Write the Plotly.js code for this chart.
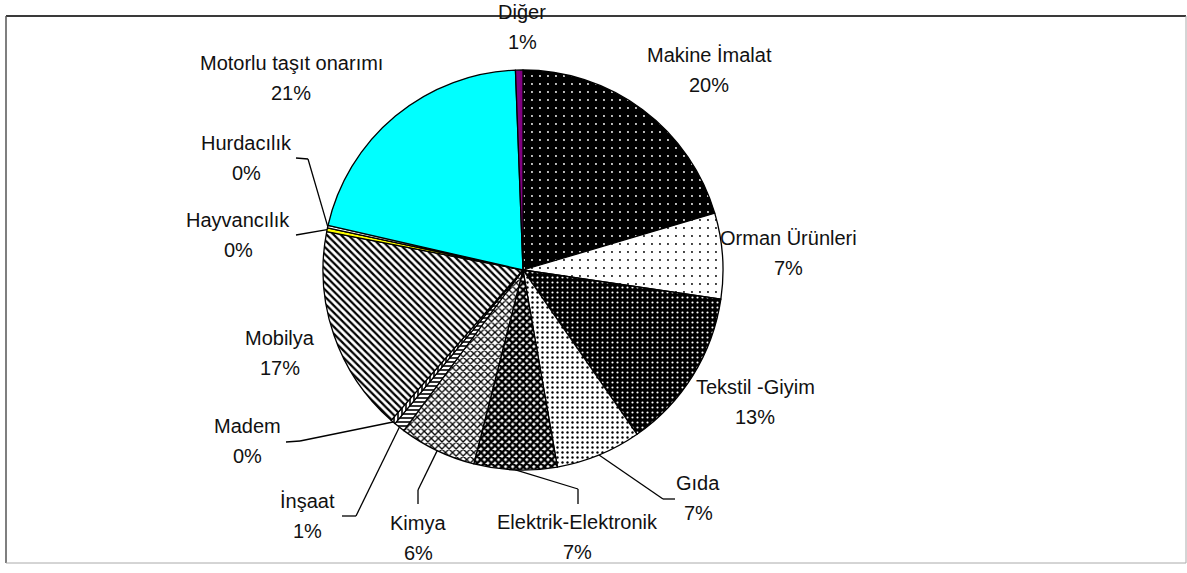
<!DOCTYPE html>
<html>
<head>
<meta charset="utf-8">
<script src="https://cdn.plot.ly/plotly-3.0.1.min.js"></script>
<style>html,body{margin:0;padding:0;background:#fff;}#chart{width:1187px;height:573px;}</style>
</head>
<body>
<div id="chart"></div>
<script>
// ---- data ----
const categories = ["Makine İmalat","Orman Ürünleri","Tekstil -Giyim","Gıda","Elektrik-Elektronik","Kimya","İnşaat","Madem","Mobilya","Hayvancılık","Hurdacılık","Motorlu taşıt onarımı","Diğer"];
const shares = [20.4, 6.9, 13.0, 6.9, 6.7, 6.2, 0.9, 0.4, 16.6, 0.3, 0.2, 20.8, 0.6];

// ---- styles ----
const sliceColors = ["#000000","#ffffff","#000000","#ffffff","#ffffff","#ffffff","#ffffff","#ffffff","#ffffff","#ffff00","#ffffff","#00ffff","#800080"];
const patShape   = [".",".",".",".","x","x","-","|","\\","","","",""];
const patFg      = ["#ffffff","#000000","#ffffff","#000000","#000000","#000000","#000000","#000000","#000000","#000000","#000000","#000000","#000000"];
const patSize    = [8,8,5,5,5,5,4,4,5,6,6,6,6];
const patSolid   = [0.045,0.045,0.15,0.18,0.72,0.45,0.4,0.4,0.45,0.3,0.3,0.3,0.3];

// label layout (pixel centres of the name line, second line 30px below)
const labelPos = [[709,55],[788,238],[755,387],[698,483],[577,522],[418,523],[308,501],[248,426],[280,338],[238,220],[246,143],[291,63],[522,12]];
// leader line elbows (pixel), ending at slice middle on the rim (computed)
const leaderPts = [null,null,null,
  [[675,499],[663,499]],
  [[578,504],[578,489]],
  [[418,504],[418,490]],
  [[342,516],[356,516]],
  [[286,442],[300,441]],
  null,
  [[296,235]],
  [[296,158],[308,159]],
  null,null];

const W = 1187, H = 573;
const cx = 523, cy = 270, R = 200;
const px = x => x / W;
const py = y => 1 - y / H;

const total = shares.reduce((a,b)=>a+b,0);

const annotations = [];
const shapes = [];
let cum = 0;
categories.forEach((name,i)=>{
  const mid = (cum + shares[i]/2) / total * 2 * Math.PI;
  cum += shares[i];
  const pct = Math.round(shares[i]/total*100) + '%';
  const [lx,ly] = labelPos[i];
  const font = {family:"Liberation Sans, Arial, sans-serif", size:20, color:"#111"};
  annotations.push({x:px(lx), y:py(ly), xref:'paper', yref:'paper', text:name, showarrow:false, xanchor:'center', yanchor:'middle', font});
  annotations.push({x:px(lx), y:py(ly+30), xref:'paper', yref:'paper', text:pct, showarrow:false, xanchor:'center', yanchor:'middle', font});
  if (leaderPts[i]) {
    const pts = leaderPts[i].concat([[cx + R*Math.sin(mid), cy - R*Math.cos(mid)]]);
    for (let k=0;k<pts.length-1;k++){
      shapes.push({type:'line', xref:'paper', yref:'paper', x0:px(pts[k][0]), y0:py(pts[k][1]), x1:px(pts[k+1][0]), y1:py(pts[k+1][1]), line:{color:'#000', width:1.3}});
    }
  }
});

// frame
shapes.push({type:'line', xref:'paper', yref:'paper', x0:px(6), y0:py(16), x1:px(1186), y1:py(16), line:{color:'#3a3a3a', width:2}});
shapes.push({type:'line', xref:'paper', yref:'paper', x0:px(6), y0:py(16), x1:px(6), y1:py(563), line:{color:'#555', width:1.5}});
shapes.push({type:'line', xref:'paper', yref:'paper', x0:px(1186), y0:py(16), x1:px(1186), y1:py(563), line:{color:'#aaa', width:1}});
shapes.push({type:'line', xref:'paper', yref:'paper', x0:px(6), y0:py(563), x1:px(1186), y1:py(563), line:{color:'#aaa', width:1}});

const trace = {
  type:'pie',
  labels:categories,
  values:shares,
  sort:false,
  direction:'clockwise',
  rotation:0,
  textinfo:'none',
  hoverinfo:'label+percent',
  showlegend:false,
  domain:{x:[px(cx-R), px(cx+R)], y:[py(cy+R), py(cy-R)]},
  marker:{
    colors:sliceColors,
    line:{color:'#000', width:1.3},
    pattern:{shape:patShape, fgcolor:patFg, bgcolor:sliceColors, size:patSize, solidity:patSolid, fillmode:'replace'}
  }
};

Plotly.newPlot('chart',[trace],{
  width:W, height:H,
  margin:{l:0,r:0,t:0,b:0},
  paper_bgcolor:'#fff',
  showlegend:false,
  annotations, shapes
},{displayModeBar:false, staticPlot:true});
</script>
</body>
</html>
